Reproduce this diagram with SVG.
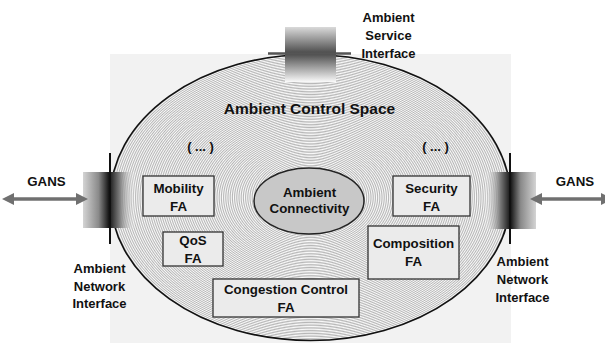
<svg xmlns="http://www.w3.org/2000/svg" width="605" height="343" viewBox="0 0 605 343">
<defs>
<style>
text{font-family:"Liberation Sans",Arial,sans-serif;font-weight:bold;fill:#111;text-anchor:middle}
.lbl{font-size:13px}
.fa{font-size:13.3px}
.box{fill:#ebebeb;stroke:#333;stroke-width:1.3}
.arrow{stroke:#707070;stroke-width:3.5;fill:none}
</style>
<radialGradient id="rings" cx="0.5" cy="0.5" r="0.0055" spreadMethod="repeat">
<stop offset="0" stop-color="#fafafa"/>
<stop offset="0.5" stop-color="#b6b6b6"/>
<stop offset="1" stop-color="#fafafa"/>
</radialGradient>
<linearGradient id="ifL" x1="0" y1="0" x2="1" y2="0">
<stop offset="0" stop-color="#d4d4d4"/>
<stop offset="0.3" stop-color="#8a8a8a"/>
<stop offset="0.5" stop-color="#141414"/>
<stop offset="0.7" stop-color="#7a7a7a"/>
<stop offset="1" stop-color="#f2f2f2" stop-opacity="0.2"/>
</linearGradient>
<linearGradient id="ifR" x1="1" y1="0" x2="0" y2="0">
<stop offset="0" stop-color="#d4d4d4"/>
<stop offset="0.3" stop-color="#8a8a8a"/>
<stop offset="0.5" stop-color="#141414"/>
<stop offset="0.7" stop-color="#7a7a7a"/>
<stop offset="1" stop-color="#f2f2f2" stop-opacity="0.2"/>
</linearGradient>
<linearGradient id="ifT" x1="0" y1="0" x2="0" y2="1">
<stop offset="0" stop-color="#dadada"/>
<stop offset="0.48" stop-color="#4a4a4a"/>
<stop offset="1" stop-color="#fafafa"/>
</linearGradient>
<marker id="ah" viewBox="0 0 12 12" refX="2" refY="6" markerWidth="12" markerHeight="12" markerUnits="userSpaceOnUse" orient="auto-start-reverse">
<path d="M0,0 L12,6 L0,12 Z" fill="#707070"/>
</marker>
</defs>

<rect x="110" y="54" width="401" height="289" fill="#f2f2f2"/>

<g id="ambient-control-space">
<ellipse cx="310.5" cy="197.5" rx="200" ry="143" fill="url(#rings)" stroke="#111" stroke-width="1.6"/>
<text x="309.5" y="114" style="font-size:15.5px">Ambient Control Space</text>
<text class="lbl" x="200.5" y="151">( ... )</text>
<text class="lbl" x="435.5" y="151">( ... )</text>
</g>

<g id="ambient-service-interface">
<rect x="285" y="27" width="51" height="55" fill="url(#ifT)"/>
<line x1="268" y1="53.5" x2="351" y2="53.5" stroke="#555" stroke-width="2.5"/>
<text class="lbl" x="388.5" y="22">Ambient</text>
<text class="lbl" x="388.5" y="40">Service</text>
<text class="lbl" x="388.5" y="57.5">Interface</text>
</g>

<g id="ambient-network-interface-left">
<rect x="83" y="172" width="52" height="56" fill="url(#ifL)"/>
<line x1="110" y1="153" x2="110" y2="244" stroke="#111" stroke-width="2"/>
<text class="lbl" x="99.5" y="273">Ambient</text>
<text class="lbl" x="99.5" y="290.5">Network</text>
<text class="lbl" x="99.5" y="308">Interface</text>
</g>

<g id="ambient-network-interface-right">
<rect x="485" y="172" width="51" height="57" fill="url(#ifR)"/>
<line x1="510" y1="153" x2="510" y2="244" stroke="#111" stroke-width="2"/>
<text class="lbl" x="522.5" y="266">Ambient</text>
<text class="lbl" x="522.5" y="284">Network</text>
<text class="lbl" x="522.5" y="302">Interface</text>
</g>

<g id="gans-left">
<text class="fa" x="46.5" y="186">GANS</text>
</g>
<g id="gans-right">
<text class="fa" x="575" y="186">GANS</text>
</g>

<g id="ambient-connectivity">
<ellipse cx="309" cy="201" rx="55" ry="33" fill="#c8c8c8" stroke="#222" stroke-width="1.5"/>
<text class="fa" x="309.5" y="196.5">Ambient</text>
<text class="fa" x="309.5" y="212.5">Connectivity</text>
</g>

<g id="mobility-fa">
<rect class="box" x="143" y="176" width="71" height="40"/>
<text class="fa" x="178.5" y="192.5">Mobility</text>
<text class="fa" x="178.5" y="210.5">FA</text>
</g>

<g id="qos-fa">
<rect class="box" x="163" y="232" width="60" height="34"/>
<text class="fa" x="193" y="245">QoS</text>
<text class="fa" x="193" y="263">FA</text>
</g>

<g id="congestion-control-fa">
<rect class="box" x="213" y="279" width="146" height="38"/>
<text class="fa" x="286" y="293.5">Congestion Control</text>
<text class="fa" x="286" y="311.5">FA</text>
</g>

<g id="security-fa">
<rect class="box" x="393" y="176" width="77" height="40"/>
<text class="fa" x="431.5" y="192.5">Security</text>
<text class="fa" x="431.5" y="210.5">FA</text>
</g>

<g id="composition-fa">
<rect class="box" x="368" y="226" width="91" height="53"/>
<text class="fa" x="413.5" y="248">Composition</text>
<text class="fa" x="413.5" y="266">FA</text>
</g>

<g id="connectors">
<line class="arrow" x1="12" y1="199" x2="78" y2="199" marker-start="url(#ah)" marker-end="url(#ah)"/>
<line class="arrow" x1="540" y1="199" x2="603" y2="199" marker-start="url(#ah)" marker-end="url(#ah)"/>
</g>
</svg>
